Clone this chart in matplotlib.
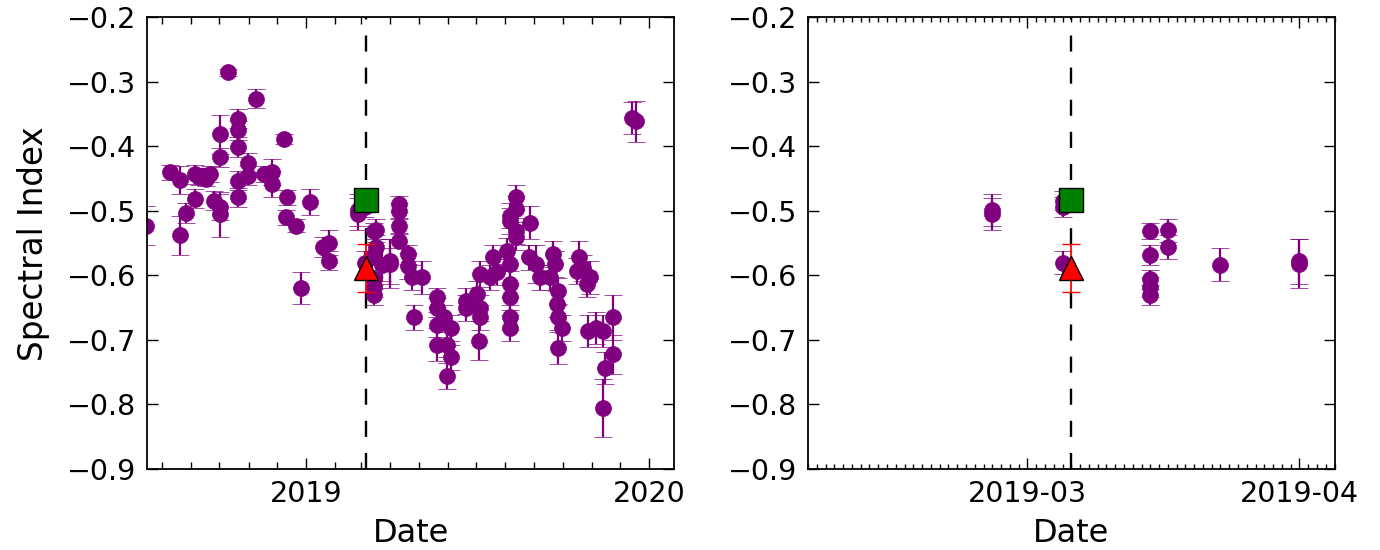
import matplotlib
matplotlib.use('Agg')
import matplotlib.pyplot as plt
import matplotlib.dates as mdates
import pandas as pd

# 光谱指数随时间变化
obs_dates = [
    '2018-07-15', '2018-08-10', '2018-08-20', '2018-08-20', '2018-08-27', '2018-09-05', '2018-09-05',
    '2018-09-09', '2018-09-13', '2018-09-17', '2018-09-21', '2018-09-25', '2018-10-02', '2018-10-02',
    '2018-10-02', '2018-10-02', '2018-10-10', '2018-10-21', '2018-10-21', '2018-10-21', '2018-10-21',
    '2018-10-21', '2018-10-31', '2018-10-31', '2018-11-09', '2018-11-17', '2018-11-26', '2018-11-26',
    '2018-12-09', '2018-12-11', '2018-12-12', '2018-12-22', '2018-12-27', '2019-01-05', '2019-01-19',
    '2019-01-26', '2019-01-26', '2019-02-25', '2019-02-25', '2019-03-05', '2019-03-05', '2019-03-05',
    '2019-03-15', '2019-03-15', '2019-03-15', '2019-03-15', '2019-03-15', '2019-03-17', '2019-03-17',
    '2019-03-23', '2019-04-01', '2019-04-01', '2019-04-10', '2019-04-10', '2019-04-10', '2019-04-10',
    '2019-04-20', '2019-04-20', '2019-04-24', '2019-04-26', '2019-05-05', '2019-05-21', '2019-05-21',
    '2019-05-21', '2019-05-21', '2019-05-28', '2019-05-31', '2019-05-31', '2019-06-04', '2019-06-04',
    '2019-06-20', '2019-06-20', '2019-07-02', '2019-07-04', '2019-07-05', '2019-07-05', '2019-07-05',
    '2019-07-16', '2019-07-19', '2019-07-23', '2019-08-03', '2019-08-06', '2019-08-06', '2019-08-06',
    '2019-08-06', '2019-08-06', '2019-08-06', '2019-08-06', '2019-08-13', '2019-08-13', '2019-08-13',
    '2019-08-13', '2019-08-26', '2019-08-27', '2019-09-03', '2019-09-07', '2019-09-18', '2019-09-21',
    '2019-09-23', '2019-09-25', '2019-09-26', '2019-09-26', '2019-09-26', '2019-09-30', '2019-10-16',
    '2019-10-19', '2019-10-23', '2019-10-27', '2019-10-28', '2019-10-30', '2019-11-06', '2019-11-13',
    '2019-11-13', '2019-11-15', '2019-11-24', '2019-11-24', '2019-12-14', '2019-12-18',
]
spec_index = [
    -0.523, -0.440, -0.452, -0.538, -0.503, -0.481, -0.443,
    -0.447, -0.445, -0.450, -0.443, -0.484, -0.494, -0.505,
    -0.417, -0.381, -0.285, -0.479, -0.453, -0.401, -0.375,
    -0.357, -0.425, -0.445, -0.326, -0.443, -0.440, -0.458,
    -0.388, -0.510, -0.479, -0.523, -0.619, -0.486, -0.556,
    -0.549, -0.577, -0.498, -0.505, -0.484, -0.494, -0.580,
    -0.531, -0.568, -0.606, -0.618, -0.630, -0.530, -0.556,
    -0.583, -0.578, -0.582, -0.489, -0.500, -0.523, -0.546,
    -0.567, -0.585, -0.603, -0.665, -0.603, -0.634, -0.650,
    -0.676, -0.707, -0.665, -0.707, -0.756, -0.681, -0.727,
    -0.639, -0.650, -0.629, -0.701, -0.598, -0.650, -0.665,
    -0.603, -0.572, -0.594, -0.562, -0.507, -0.515, -0.582,
    -0.613, -0.634, -0.665, -0.681, -0.479, -0.497, -0.531,
    -0.541, -0.572, -0.518, -0.582, -0.603, -0.603, -0.567,
    -0.582, -0.644, -0.624, -0.665, -0.712, -0.681, -0.593,
    -0.572, -0.588, -0.613, -0.686, -0.603, -0.681, -0.686,
    -0.805, -0.743, -0.665, -0.722, -0.356, -0.361,
]
spec_err = [
    0.030, 0.012, 0.022, 0.030, 0.015, 0.015, 0.015,
    0.012, 0.012, 0.012, 0.012, 0.015, 0.020, 0.035,
    0.015, 0.030, 0.005, 0.015, 0.015, 0.015, 0.015,
    0.015, 0.015, 0.015, 0.015, 0.012, 0.020, 0.020,
    0.008, 0.012, 0.012, 0.010, 0.025, 0.020, 0.015,
    0.020, 0.015, 0.025, 0.025, 0.015, 0.015, 0.018,
    0.012, 0.015, 0.015, 0.015, 0.015, 0.018, 0.018,
    0.025, 0.035, 0.038, 0.012, 0.012, 0.012, 0.012,
    0.015, 0.020, 0.020, 0.020, 0.025, 0.015, 0.015,
    0.020, 0.025, 0.020, 0.020, 0.020, 0.020, 0.020,
    0.020, 0.020, 0.020, 0.030, 0.020, 0.020, 0.020,
    0.020, 0.020, 0.020, 0.020, 0.020, 0.020, 0.030,
    0.020, 0.020, 0.020, 0.020, 0.020, 0.020, 0.020,
    0.020, 0.020, 0.025, 0.030, 0.020, 0.020, 0.020,
    0.020, 0.020, 0.020, 0.020, 0.025, 0.020, 0.020,
    0.025, 0.020, 0.020, 0.025, 0.025, 0.025, 0.025,
    0.045, 0.025, 0.035, 0.030, 0.025, 0.032,
]

# 事件日期及两个特殊测量点
event_date = '2019-03-06'
square_value = -0.483
triangle_value = -0.588
triangle_err = 0.037

# 坐标范围
left_xlim = ('2018-07-16', '2020-01-28')
right_xlim = ('2019-02-04', '2019-04-05')
y_range = (-0.9, -0.2)


def draw_panel(ax):
    t = pd.to_datetime(obs_dates)
    ev = pd.to_datetime(event_date)
    ax.errorbar(t, spec_index, yerr=spec_err, fmt='o', color='purple', ms=11.5,
                mec='purple', mew=0.5, elinewidth=1.6, capsize=6.5, capthick=1.6, zorder=2)
    ax.axvline(ev, color='black', lw=1.7, linestyle=(0, (6.8, 6.8)), zorder=1)
    ax.errorbar([ev], [triangle_value], yerr=[triangle_err], fmt='^', color='red', ms=17,
                mec='black', mew=1, elinewidth=1.3, ecolor='red', capsize=6.5, capthick=1.3, zorder=4)
    ax.plot([ev], [square_value], 's', color='green', ms=17, mec='black', mew=1, zorder=5)
    ax.set_ylim(*y_range)
    ax.set_yticks([-0.9, -0.8, -0.7, -0.6, -0.5, -0.4, -0.3, -0.2])
    ax.tick_params(which='both', direction='in', top=True, right=True, labelsize=20.5, pad=8)
    ax.tick_params(which='major', length=8, width=1)
    ax.set_xlabel('Date', fontsize=23, labelpad=7)
    for s in ax.spines.values():
        s.set_linewidth(1.3)


fig = plt.figure(figsize=(13.8, 5.5), dpi=100, facecolor='white')
ax1 = fig.add_axes([0.1065, 0.1473, 0.3822, 0.8209])
ax2 = fig.add_axes([0.5855, 0.1473, 0.3816, 0.8209])

draw_panel(ax1)
ax1.set_xlim(pd.to_datetime(left_xlim[0]), pd.to_datetime(left_xlim[1]))
ax1.xaxis.set_major_locator(mdates.YearLocator())
ax1.xaxis.set_major_formatter(mdates.DateFormatter('%Y'))
ax1.xaxis.set_minor_locator(mdates.MonthLocator())
ax1.tick_params(which='minor', length=5, width=1)
ax1.set_ylabel('Spectral Index', fontsize=23.5, labelpad=12)

draw_panel(ax2)
ax2.set_xlim(pd.to_datetime(right_xlim[0]), pd.to_datetime(right_xlim[1]))
ax2.xaxis.set_major_locator(mdates.MonthLocator())
ax2.xaxis.set_major_formatter(mdates.DateFormatter('%Y-%m'))
ax2.xaxis.set_minor_locator(mdates.DayLocator())
ax2.tick_params(which='minor', length=3.5, width=1)

fig.savefig('out.png', dpi=100, facecolor='white')
